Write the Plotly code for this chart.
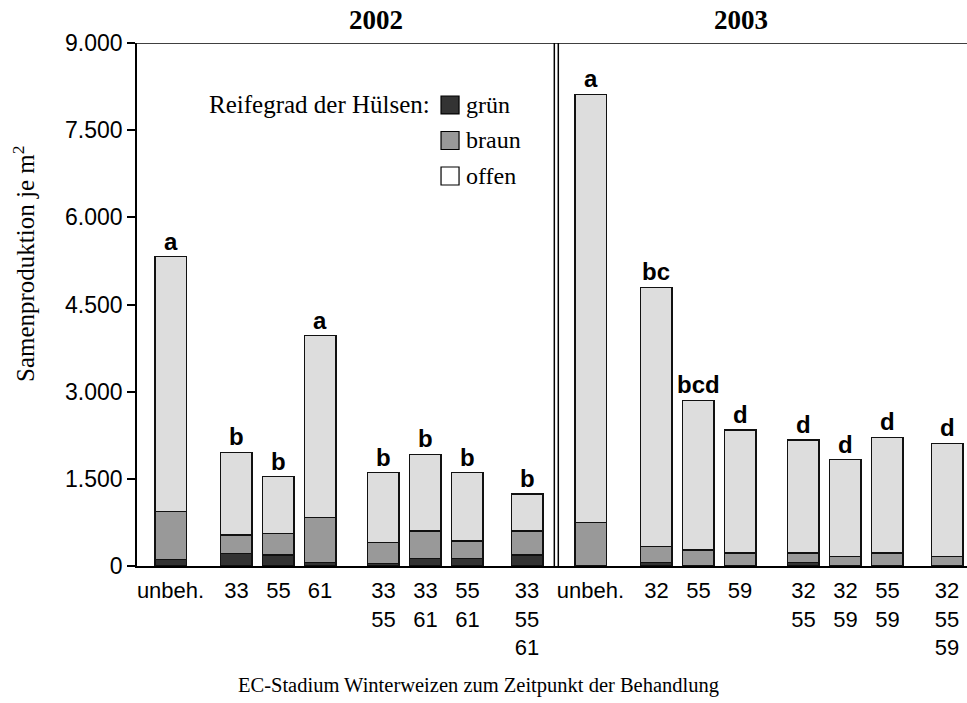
import plotly.graph_objects as go

# Behandlungen (EC-Stadium) je Jahr
labels_2002 = ["unbeh.", "33", "55", "61", "33<br>55", "33<br>61", "55<br>61", "33<br>55<br>61"]
labels_2003 = ["unbeh.", "32", "55", "59", "32<br>55", "32<br>59", "55<br>59", "32<br>55<br>59"]

# Samenproduktion je m² nach Reifegrad der Hülsen
gruen_2002 = [110, 218, 189, 57, 46, 132, 132, 189]
braun_2002 = [824, 315, 373, 780, 355, 470, 298, 413]
offen_2002 = [4390, 1423, 974, 3126, 1204, 1319, 1175, 636]

gruen_2003 = [0, 57, 0, 0, 57, 0, 0, 0]
braun_2003 = [745, 275, 275, 224, 167, 161, 224, 161]
offen_2003 = [7373, 4464, 2575, 2115, 1943, 1668, 1989, 1949]

# Signifikanzbuchstaben
letters_2002 = ["a", "b", "b", "a", "b", "b", "b", "b"]
letters_2003 = ["a", "bc", "bcd", "d", "d", "d", "d", "d"]

y_ticks = [0, 1500, 3000, 4500, 6000, 7500, 9000]
y_ticktext = ["0", "1.500", "3.000", "4.500", "6.000", "7.500", "9.000"]

# layout: bar slots within one year, second year shifted by 10 slots
slot = [0, 1.57, 2.57, 3.56, 5.07, 6.07, 7.07, 8.49]
xpos = slot + [s + 10 for s in slot]

labels = labels_2002 + labels_2003
gruen = gruen_2002 + gruen_2003
braun = braun_2002 + braun_2003
offen = offen_2002 + offen_2003
letters = letters_2002 + letters_2003

SANS = "Liberation Sans, Arial, sans-serif"
SERIF = "Liberation Serif, Times New Roman, serif"
colors = {"grün": "#333333", "braun": "#999999", "offen": "#dddddd"}

fig = go.Figure()
for name, vals in [("grün", gruen), ("braun", braun), ("offen", offen)]:
    fig.add_trace(go.Bar(
        x=xpos, y=vals, name=name, width=0.75,
        marker=dict(color=colors[name], line=dict(color="#111111", width=1.5)),
        showlegend=False,
    ))

totals = [g + b + o for g, b, o in zip(gruen, braun, offen)]
for x, t, lab in zip(xpos, totals, letters):
    fig.add_annotation(x=x, y=t, text=f"<b>{lab}</b>", showarrow=False,
                       yanchor="bottom", yshift=0,
                       font=dict(family=SANS, size=24, color="black"))

shapes = [
    # top frame line
    dict(type="line", xref="paper", yref="y", x0=0, x1=1, y0=9000, y1=9000,
         line=dict(color="black", width=1.5)),
    # double divider between years
    dict(type="line", xref="paper", yref="paper", x0=0.5028, x1=0.5028, y0=0, y1=1,
         line=dict(color="black", width=1.5)),
    dict(type="line", xref="paper", yref="paper", x0=0.5076, x1=0.5076, y0=0, y1=1,
         line=dict(color="black", width=1.5)),
]

# legend drawn by hand
leg_y = [0.8815, 0.8136, 0.7457]
leg_fill = ["#333333", "#999999", "#ffffff"]
for yy, fill, name in zip(leg_y, leg_fill, ["grün", "braun", "offen"]):
    shapes.append(dict(type="rect", xref="paper", yref="paper",
                       x0=0.3663, x1=0.3880, y0=yy - 0.0172, y1=yy + 0.0172,
                       fillcolor=fill, line=dict(color="black", width=1.2)))
    fig.add_annotation(xref="paper", yref="paper", x=0.3944, y=yy, text=name,
                       showarrow=False, xanchor="left", yanchor="middle",
                       font=dict(family=SERIF, size=24, color="black"))
fig.add_annotation(xref="paper", yref="paper", x=0.3554, y=leg_y[0],
                   text="Reifegrad der Hülsen:", showarrow=False,
                   xanchor="right", yanchor="middle",
                   font=dict(family=SERIF, size=25, color="black"))

# year headings
for xp, yr in [(0.253, "2002"), (0.763, "2003")]:
    fig.add_annotation(xref="paper", yref="paper", x=xp, y=1.044, text=f"<b>{yr}</b>",
                       showarrow=False, yanchor="middle",
                       font=dict(family=SERIF, size=27, color="black"))

# axis titles
fig.add_annotation(xref="paper", yref="paper", x=0.412, y=-0.228,
                   text="EC-Stadium Winterweizen zum Zeitpunkt der Behandlung",
                   showarrow=False, yanchor="middle",
                   font=dict(family=SERIF, size=20.5, color="black"))
fig.add_annotation(xref="paper", yref="paper", x=-0.137, y=0.578,
                   text="Samenproduktion je m<sup>2</sup>", textangle=-90,
                   showarrow=False, xanchor="center", yanchor="middle",
                   font=dict(family=SERIF, size=25, color="black"))

fig.update_layout(
    barmode="stack",
    width=967, height=703,
    margin=dict(l=137, r=0, t=43, b=137),
    paper_bgcolor="white", plot_bgcolor="white",
    shapes=shapes,
    xaxis=dict(
        range=[-0.798, 18.964], tickvals=xpos, ticktext=labels,
        showline=True, linecolor="black", linewidth=1.5,
        ticks="", ticklabelstandoff=4, showgrid=False, zeroline=False,
        tickfont=dict(family=SANS, size=22, color="black"),
    ),
    yaxis=dict(
        range=[0, 9000], tickvals=y_ticks, ticktext=y_ticktext,
        showline=True, linecolor="black", linewidth=1.5,
        ticks="outside", ticklen=8, tickwidth=1.5, tickcolor="black",
        showgrid=False, zeroline=False,
        tickfont=dict(family=SANS, size=23, color="black"),
    ),
)

# remove the default page margin so the figure fills the window exactly
fig.write_html("out.html", config={"displayModeBar": False},
               post_script="document.body.style.margin='0';")
